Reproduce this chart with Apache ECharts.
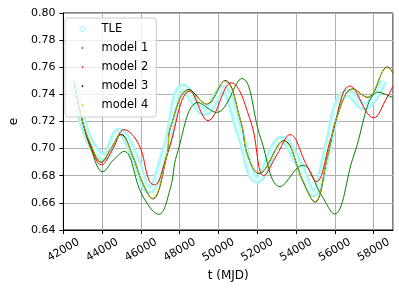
<!DOCTYPE html>
<html><head><meta charset="utf-8">
<script src="https://cdn.jsdelivr.net/npm/echarts@6/dist/echarts.min.js"></script>
<style>html,body{margin:0;padding:0;background:#fff}#c{width:399px;height:291px}</style>
</head><body><div id="c"></div>
<script>
// x tick labels
const xTicks = [42000, 44000, 46000, 48000, 50000, 52000, 54000, 56000, 58000];
const yTicks = [0.64, 0.66, 0.68, 0.70, 0.72, 0.74, 0.76, 0.78, 0.80];
const seriesNames = ['TLE', 'model 1', 'model 2', 'model 3', 'model 4'];

// [t (MJD), e]
const tle = [[42550,0.750],[42914,0.724],[43450,0.703],[44100,0.694],[44880,0.7125],[45650,0.695],[46420,0.6696],[47300,0.700],[48190,0.745],[49300,0.727],[50200,0.744],[51100,0.712],[52000,0.677],[53270,0.7067],[54100,0.690],[54880,0.667],[55700,0.705],[56150,0.7326],[56660,0.741],[57500,0.731],[58510,0.750]];
const model1 = [[42550,0.750],[42914,0.724],[43420,0.700],[44030,0.683],[44600,0.692],[45130,0.698],[46060,0.6659],[46920,0.6516],[47517,0.6708],[47850,0.6955],[48950,0.734],[49900,0.7267],[51200,0.7516],[52170,0.7079],[53180,0.672],[54330,0.6877],[55300,0.6659],[55975,0.6518],[56990,0.6955],[58260,0.7417],[59000,0.7375]];
const model2 = [[42550,0.750],[42914,0.724],[43420,0.701],[43960,0.688],[44550,0.700],[45130,0.714],[45890,0.703],[46430,0.676],[46700,0.6733],[47345,0.6955],[48530,0.7424],[49460,0.7207],[50650,0.7486],[51660,0.7202],[52340,0.680],[53015,0.6955],[53690,0.7103],[54540,0.688],[55045,0.6757],[55810,0.708],[56790,0.7462],[58000,0.7227],[58680,0.7375],[59000,0.746]];
const model3 = [[42550,0.750],[42914,0.724],[43420,0.7025],[43950,0.6900],[44450,0.700],[44980,0.7105],[45553,0.6955],[46060,0.6755],[46600,0.6630],[47345,0.6955],[47517,0.7153],[48480,0.7435],[49390,0.7328],[50330,0.7502],[51150,0.7202],[51490,0.6955],[52090,0.6817],[53360,0.7058],[54370,0.6755],[54970,0.6606],[55640,0.6955],[56150,0.7252],[56920,0.7440],[57680,0.7378],[58730,0.7602],[59000,0.7558]];
const model4 = [[42550,0.750],[42914,0.724],[43420,0.703],[43945,0.6906],[44450,0.700],[44960,0.710],[45553,0.6955],[46060,0.6758],[46585,0.6634],[47345,0.6955],[47517,0.7153],[48450,0.743],[49380,0.733],[50310,0.7498],[51150,0.7202],[51490,0.6955],[52085,0.682],[53350,0.7054],[54370,0.6758],[54960,0.661],[55640,0.6955],[56150,0.7252],[56910,0.7437],[57670,0.738],[58720,0.7598],[59000,0.756]];

const FONT = 'DejaVu Sans';
const DOT = 'path://M0,0h0.01v0.01h-0.01z M2.25,2.25h1.5v1.5h-1.5z M5.99,5.99h0.01v0.01h-0.01z';
const colors = {'TLE':'#a6f7f7','model 1':'#008000','model 2':'#ff0000','model 3':'#000000','model 4':'#bfbf00'};

const chart = echarts.init(document.getElementById('c'), null, {renderer:'canvas'});
function line(name, data, width, color){
  return {name, type:'line', data, showSymbol:false, symbol:'none', smooth:0.4, z:2,
    lineStyle:{color:color||colors[name], width}, itemStyle:{color:colors[name]}, animation:false};
}
chart.setOption({
  animation:false,
  grid:{left:58, right:6, top:13, bottom:61, show:true, borderColor:'#000', borderWidth:1},
  legend:{
    orient:'vertical', left:65, top:18, padding:[4,8,5,14], itemGap:5, itemWidth:6, itemHeight:6, z:10,
    backgroundColor:'rgba(255,255,255,0.8)', borderColor:'#cccccc', borderWidth:1, borderRadius:3,
    textStyle:{fontFamily:FONT, fontSize:11.5, color:'#000', lineHeight:14, padding:[0,0,0,11]},
    data:[
      {name:'TLE', icon:'diamond', itemStyle:{color:'rgba(0,0,0,0)', borderColor:'#8ff5f5', borderWidth:1}},
      {name:'model 1', icon:DOT, itemStyle:{color:'#008000'}},
      {name:'model 2', icon:DOT, itemStyle:{color:'#ff0000'}},
      {name:'model 3', icon:DOT, itemStyle:{color:'#000000'}},
      {name:'model 4', icon:DOT, itemStyle:{color:'#bfbf00'}}
    ]
  },
  xAxis:{type:'value', min:xTicks[0], max:59000, interval:2000,
    name:'t (MJD)', nameLocation:'middle', nameGap:38,
    nameTextStyle:{fontFamily:FONT, fontSize:12, color:'#000'},
    axisLine:{show:true, lineStyle:{color:'#000'}},
    axisTick:{show:true, length:4, lineStyle:{color:'#000'}},
    axisLabel:{rotate:30, align:'center', verticalAlign:'middle', margin:20, fontFamily:FONT, fontSize:11, color:'#000', showMaxLabel:false,
      formatter:v=> xTicks.includes(v) ? String(v) : ''},
    splitLine:{show:true, lineStyle:{color:'#b0b0b0', width:1}}
  },
  yAxis:{type:'value', min:yTicks[0], max:yTicks[yTicks.length-1], interval:0.02,
    name:'e', nameLocation:'middle', nameGap:40,
    nameTextStyle:{fontFamily:FONT, fontSize:12, color:'#000'},
    axisLine:{show:true, lineStyle:{color:'#000'}},
    axisTick:{show:true, length:4, lineStyle:{color:'#000'}},
    axisLabel:{margin:8, fontFamily:FONT, fontSize:11, color:'#000', formatter:v=>v.toFixed(2)},
    splitLine:{show:true, lineStyle:{color:'#b0b0b0', width:1}}
  },
  series:[
    line('TLE', tle, 8),
    line('TLE', tle, 3.5, '#defcfc'),
    line('model 1', model1, 1),
    line('model 2', model2, 1),
    line('model 3', model3, 1),
    line('model 4', model4, 1)
  ]
});
</script></body></html>
